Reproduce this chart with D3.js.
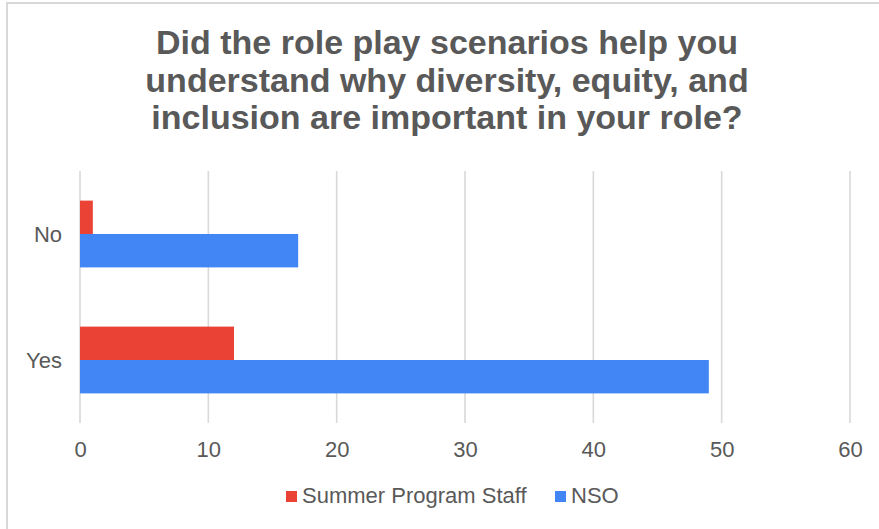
<!DOCTYPE html>
<html>
<head>
<meta charset="utf-8">
<script src="https://cdn.jsdelivr.net/npm/d3@7"></script>
<style>
  html, body { margin: 0; padding: 0; background: #fff; }
  svg { display: block; font-family: Arial, "Liberation Sans", sans-serif; }
</style>
</head>
<body>
<svg id="chart" width="879" height="529"></svg>
<script>
// Survey responses by group
const categories = ["No", "Yes"];
const seriesNames = ["Summer Program Staff", "NSO"];
const summerStaff = [1, 12];
const nso = [17, 49];
const xTicks = [0, 10, 20, 30, 40, 50, 60];
const titleLines = [
  "Did the role play scenarios help you",
  "understand why diversity, equity, and",
  "inclusion are important in your role?"
];
const colors = ["#ea4335", "#4285f4"];

const svg = d3.select("#chart");
const W = 879, H = 529;
const plot = { left: 80, right: 850, top: 171, bottom: 423 };

svg.append("rect").attr("width", W).attr("height", H).attr("fill", "#fff");

// outer frame (left and top edges visible)
svg.append("path")
  .attr("d", `M7,${H} L7,3 L${W},3`)
  .attr("fill", "none")
  .attr("stroke", "#d9d9d9")
  .attr("stroke-width", 2);

// title
svg.append("g").selectAll("text")
  .data(titleLines)
  .join("text")
  .attr("x", 447)
  .attr("y", (d, i) => 54 + i * 37.5)
  .attr("text-anchor", "middle")
  .attr("font-size", 34)
  .attr("font-weight", "bold")
  .attr("fill", "#595959")
  .text(d => d);

const x = d3.scaleLinear().domain([0, 60]).range([plot.left, plot.right]);
const y = d3.scaleBand().domain(categories).range([plot.top, plot.bottom])
  .paddingInner(0.47).paddingOuter(0.235);
const ySub = d3.scaleBand().domain(seriesNames).range([0, y.bandwidth()]);

// vertical gridlines
svg.append("g").selectAll("line")
  .data(xTicks)
  .join("line")
  .attr("x1", d => x(d)).attr("x2", d => x(d))
  .attr("y1", plot.top).attr("y2", plot.bottom)
  .attr("stroke", "#d9d9d9")
  .attr("stroke-width", 1.6);

// x axis labels
const xAxis = d3.axisBottom(x).tickValues(xTicks).tickSize(0).tickPadding(0);
const gx = svg.append("g").attr("transform", `translate(0,${plot.bottom})`).call(xAxis);
gx.select(".domain").remove();
gx.selectAll("text")
  .attr("y", 34)
  .attr("dy", 0)
  .attr("font-size", 22)
  .attr("font-family", "Arial, 'Liberation Sans', sans-serif")
  .attr("fill", "#595959");

// y axis labels
const yAxis = d3.axisLeft(y).tickSize(0).tickPadding(0);
const gy = svg.append("g").attr("transform", `translate(62,0)`).call(yAxis);
gy.select(".domain").remove();
gy.selectAll("text")
  .attr("x", 0)
  .attr("dy", "0.36em")
  .attr("font-size", 22)
  .attr("font-family", "Arial, 'Liberation Sans', sans-serif")
  .attr("fill", "#595959");

// bars
const series = [summerStaff, nso];
svg.append("g").selectAll("g")
  .data(series)
  .join("g")
  .attr("fill", (d, i) => colors[i])
  .each(function (vals, si) {
    d3.select(this).selectAll("rect")
      .data(vals)
      .join("rect")
      .attr("x", x(0))
      .attr("y", (v, ci) => y(categories[ci]) + ySub(seriesNames[si]))
      .attr("width", v => x(v) - x(0))
      .attr("height", ySub.bandwidth());
  });

// legend
const legendItems = [
  { name: seriesNames[0], color: colors[0], x: 286 },
  { name: seriesNames[1], color: colors[1], x: 555 }
];
const lg = svg.append("g");
legendItems.forEach(it => {
  lg.append("rect")
    .attr("x", it.x).attr("y", 491)
    .attr("width", 11).attr("height", 11)
    .attr("fill", it.color);
  lg.append("text")
    .attr("x", it.x + 16).attr("y", 503)
    .attr("font-size", 22)
    .attr("fill", "#595959")
    .text(it.name);
});
</script>
</body>
</html>
